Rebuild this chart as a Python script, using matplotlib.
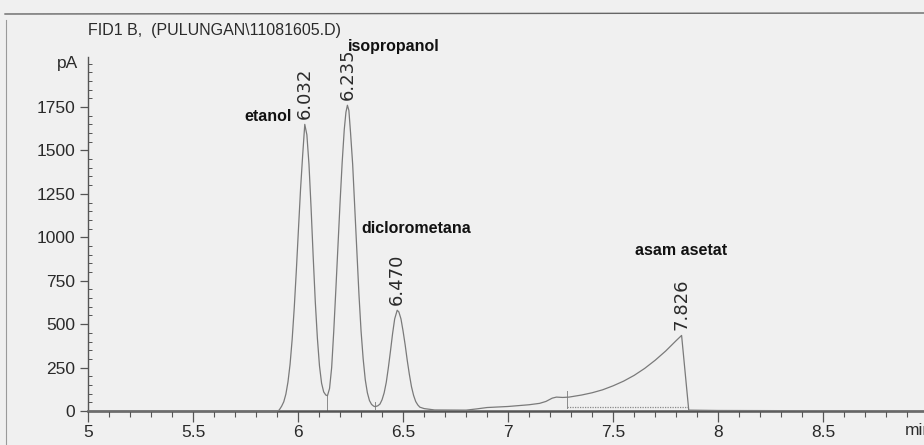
import matplotlib
matplotlib.use("Agg")
import matplotlib.pyplot as plt
from matplotlib.ticker import MultipleLocator
from matplotlib.lines import Line2D

# chromatogram trace (min, pA)
time = [5.00, 5.90, 5.910, 5.922, 5.932, 5.942, 5.952, 5.962, 5.972, 5.982, 5.992,
        6.002, 6.012, 6.022, 6.032, 6.042, 6.052, 6.062, 6.072, 6.082, 6.092,
        6.102, 6.112, 6.122, 6.132, 6.140, 6.150, 6.160, 6.170, 6.180, 6.190,
        6.200, 6.210, 6.220, 6.228, 6.235, 6.242, 6.250, 6.260, 6.270, 6.280,
        6.290, 6.300, 6.310, 6.320, 6.330, 6.340, 6.350, 6.360, 6.367, 6.380,
        6.390, 6.400, 6.410, 6.420, 6.430, 6.440, 6.450, 6.460, 6.472, 6.480,
        6.490, 6.500, 6.510, 6.520, 6.530, 6.540, 6.550, 6.560, 6.570, 6.580,
        6.600, 6.650, 6.800, 6.850, 6.900, 7.000, 7.100, 7.150, 7.180, 7.210,
        7.230, 7.260, 7.290, 7.350, 7.400, 7.450, 7.500, 7.550, 7.600, 7.650,
        7.700, 7.750, 7.800, 7.826, 7.860, 8.000, 9.000]
signal = [0, 0, 5, 28, 53, 97, 167, 269, 413, 596, 812,
          1048, 1279, 1473, 1650, 1590, 1420, 1170, 890, 630, 420,
          260, 160, 110, 92, 88, 130, 250, 460, 700, 950,
          1200, 1430, 1620, 1720, 1760, 1730, 1600, 1420, 1170, 920,
          670, 460, 300, 180, 105, 60, 38, 28, 25, 30,
          40, 65, 105, 165, 250, 345, 445, 530, 580, 570,
          530, 460, 380, 290, 210, 140, 90, 55, 35, 22,
          14, 6, 5, 12, 20, 26, 36, 44, 55, 74,
          80, 78, 80, 92, 105, 122, 145, 172, 205, 245,
          292, 345, 405, 435, 5, 3, 0]

peak_times = [6.032, 6.235, 6.470, 7.826]
peak_heights = [1650, 1760, 580, 435]
peak_labels = ["6.032", "6.235", "6.470", "7.826"]

names = ["etanol", "isopropanol", "diclorometana", "asam asetat"]
name_x = [5.857, 6.457, 6.562, 7.824]
name_y = [1698, 2100, 1048, 921]

# integration markers
mark_x = [6.140, 6.367, 7.280]
mark_lo = [0, 10, 20]
mark_hi = [88, 50, 115]
base_x = [7.280, 7.860]
base_y = [22, 22]

yticks = [0, 250, 500, 750, 1000, 1250, 1500, 1750]
xticks = [5, 5.5, 6, 6.5, 7, 7.5, 8, 8.5]

paper = "#f0f0f0"
ink = "#2a2a2a"
narrow = ["Liberation Sans Narrow", "Liberation Sans", "DejaVu Sans"]

fig = plt.figure(figsize=(9.24, 4.45), dpi=100, facecolor=paper)
ax = fig.add_axes([88 / 924, 34 / 445, 1 - 88 / 924, 354.4 / 445])
ax.set_facecolor(paper)

ax.plot(time, signal, color="#7a7a7a", lw=0.9, clip_on=False, zorder=3)
for x, lo, hi in zip(mark_x, mark_lo, mark_hi):
    ax.plot([x, x], [lo, hi], color="#8a8a8a", lw=0.7, zorder=2)
ax.plot(base_x, base_y, color="#8a8a8a", lw=0.9, ls=(0, (1, 1)), zorder=2)

for t, h, lab in zip(peak_times, peak_heights, peak_labels):
    ax.annotate(lab, (t, h), xytext=(0, 4), textcoords="offset points",
                rotation=90, ha="center", va="bottom", fontsize=13,
                family="DejaVu Sans", color=ink)

for n, x, y in zip(names, name_x, name_y):
    ax.text(x, y, n, ha="center", va="center", fontsize=11.5, fontweight="bold",
            family=["Liberation Sans", "DejaVu Sans"], color="#111111",
            clip_on=False)

ax.set_xlim(5, 8.98)
ax.set_ylim(0, 2040)
for s in ["top", "right"]:
    ax.spines[s].set_visible(False)
ax.spines["left"].set_color("#555555")
ax.spines["left"].set_linewidth(1.0)
ax.spines["bottom"].set_color("#555555")
ax.spines["bottom"].set_linewidth(1.8)

ax.set_xticks(xticks)
ax.set_xticklabels([f"{v:g}" for v in xticks])
ax.set_yticks(yticks)
ax.set_yticklabels([str(v) for v in yticks])
ax.xaxis.set_minor_locator(MultipleLocator(0.1))
ax.yaxis.set_minor_locator(MultipleLocator(50))
ax.tick_params(axis="x", which="major", direction="out", length=8, width=0.9,
               color="#555555", pad=2)
ax.tick_params(axis="x", which="minor", direction="out", length=4, width=0.8,
               color="#555555")
ax.tick_params(axis="y", which="major", direction="out", length=6, width=0.9,
               color="#555555", pad=3)
ax.tick_params(axis="y", which="minor", direction="in", length=3, width=0.7,
               color="#555555")
for lab in ax.get_xticklabels() + ax.get_yticklabels():
    lab.set_family(narrow)
    lab.set_fontsize(12.5)
    lab.set_color(ink)

ax.text(-0.012, 2000, "pA", transform=ax.get_yaxis_transform(), ha="right",
        va="center", fontsize=12.5, family=narrow, color=ink)
ax.text(8.89, -0.035, "min", transform=ax.get_xaxis_transform(), ha="left",
        va="top", fontsize=12.5, family=narrow, color=ink, clip_on=False)

fig.text(88 / 924, 1 - 30 / 445, "FID1 B,  (PULUNGAN\\11081605.D)",
         ha="left", va="center", fontsize=11.5, family=narrow, color=ink)

# edges of the scanned page
fig.add_artist(Line2D([5 / 924, 1], [1 - 14 / 445, 1 - 13 / 445],
                      transform=fig.transFigure, color="#666666", lw=1.0))
fig.add_artist(Line2D([6 / 924, 6 / 924], [0, 1 - 20 / 445],
                      transform=fig.transFigure, color="#9a9a9a", lw=0.8))

fig.savefig("out.png", dpi=100, facecolor=paper)
